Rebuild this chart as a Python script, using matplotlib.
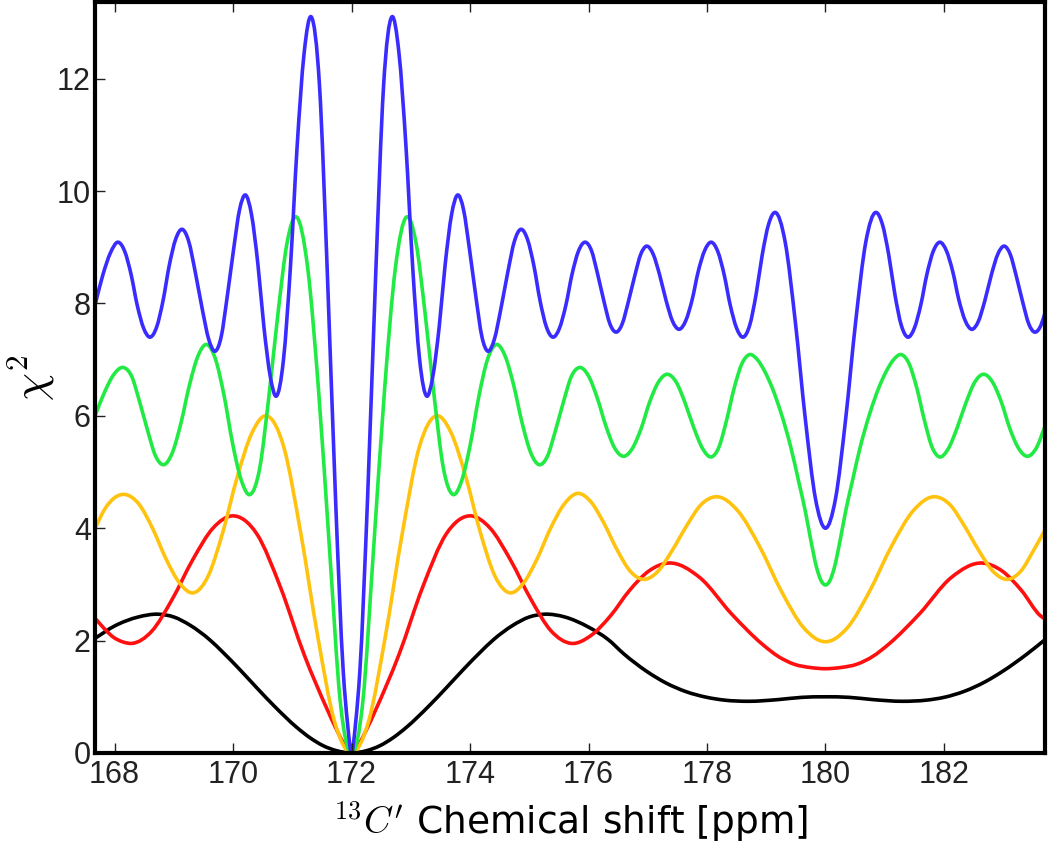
import matplotlib
matplotlib.use("Agg")
import matplotlib.pyplot as plt
import numpy as np
from matplotlib.path import Path
from matplotlib.patches import PathPatch

plt.rcParams['mathtext.fontset'] = 'cm'

# values
black_x = [167.67, 168.0, 168.4, 168.74, 169.0, 169.28, 169.6, 169.84, 170.1, 170.4,
           170.7, 171.07, 171.3, 171.52, 171.75, 172.0, 172.25, 172.48, 172.7, 172.93,
           173.3, 173.6, 173.9, 174.16, 174.4, 174.72, 175.0, 175.26, 175.6, 176.0,
           176.33, 176.6, 177.0, 177.3, 177.65, 178.0, 178.3, 178.7, 179.2, 179.6,
           180.0, 180.4, 180.8, 181.3, 181.7, 182.0, 182.35, 182.7, 183.0, 183.4, 183.71]
black_y = [2.04, 2.26, 2.42, 2.47, 2.42, 2.27, 2.02, 1.78, 1.50, 1.16,
           0.83, 0.46, 0.27, 0.13, 0.04, 0.0, 0.04, 0.13, 0.27, 0.46,
           0.83, 1.16, 1.50, 1.78, 2.02, 2.27, 2.42, 2.47, 2.42, 2.24,
           2.02, 1.76, 1.44, 1.25, 1.09, 0.99, 0.94, 0.92, 0.95, 0.99,
           1.00, 0.99, 0.95, 0.92, 0.94, 0.99, 1.10, 1.27, 1.46, 1.76, 2.02]

red_x = [167.67, 167.82, 167.98, 168.13, 168.29, 168.63, 168.97, 169.32, 169.66, 170.0,
         170.4, 170.8, 171.2, 171.6, 171.75, 172.0, 172.25, 172.4, 172.8, 173.2,
         173.6, 174.0, 174.34, 174.68, 175.03, 175.37, 175.71, 176.04, 176.37, 176.69,
         177.02, 177.35, 177.88, 178.41, 178.94, 179.2, 179.47, 179.75, 180.0, 180.25,
         180.53, 180.8, 181.06, 181.59, 182.12, 182.65, 182.98, 183.31, 183.63, 183.71]
red_y = [2.40, 2.22, 2.06, 1.98, 1.95, 2.17, 2.73, 3.44, 4.00, 4.22,
         3.90, 2.95, 1.75, 0.75, 0.41, 0.0, 0.41, 0.75, 1.75, 2.95,
         3.90, 4.22, 4.00, 3.44, 2.73, 2.17, 1.95, 2.09, 2.44, 2.89,
         3.24, 3.38, 3.12, 2.48, 1.93, 1.72, 1.58, 1.52, 1.50, 1.52,
         1.58, 1.72, 1.93, 2.48, 3.12, 3.38, 3.24, 2.89, 2.44, 2.38]

orange_x = [167.67, 167.84, 168.01, 168.18, 168.41, 168.64, 168.87, 169.10, 169.33, 169.58,
            169.83, 170.07, 170.32, 170.57, 170.86, 171.14, 171.43, 171.71, 172.0, 172.29,
            172.57, 172.86, 173.14, 173.43, 173.68, 173.93, 174.17, 174.42, 174.67, 174.90,
            175.13, 175.36, 175.59, 175.82, 176.04, 176.26, 176.48, 176.70, 176.92, 177.17,
            177.41, 177.66, 177.90, 178.15, 178.52, 178.89, 179.26, 179.63, 180.0, 180.37,
            180.74, 181.11, 181.48, 181.85, 182.10, 182.34, 182.59, 182.83, 183.08, 183.30,
            183.52, 183.71]
orange_y = [4.00, 4.35, 4.55, 4.60, 4.43, 4.00, 3.45, 3.02, 2.85, 3.15,
            3.94, 4.91, 5.70, 6.00, 5.43, 3.93, 2.07, 0.57, 0.0, 0.57,
            2.07, 3.93, 5.43, 6.00, 5.70, 4.91, 3.94, 3.15, 2.85, 3.02,
            3.45, 4.00, 4.43, 4.62, 4.47, 4.09, 3.62, 3.24, 3.09, 3.23,
            3.60, 4.05, 4.42, 4.56, 4.31, 3.67, 2.87, 2.23, 1.98, 2.23,
            2.87, 3.67, 4.31, 4.56, 4.42, 4.05, 3.60, 3.23, 3.09, 3.24,
            3.62, 3.98]

green_x = [167.67, 167.83, 167.99, 168.15, 168.29, 168.42, 168.56, 168.69, 168.83, 168.97,
           169.12, 169.26, 169.41, 169.55, 169.70, 169.85, 169.99, 170.14, 170.29, 170.45,
           170.60, 170.76, 170.91, 171.07, 171.26, 171.44, 171.63, 171.81, 172.0, 172.19,
           172.37, 172.56, 172.74, 172.93, 173.09, 173.24, 173.40, 173.55, 173.71, 173.86,
           174.01, 174.15, 174.30, 174.45, 174.59, 174.74, 174.88, 175.03, 175.17, 175.31,
           175.44, 175.58, 175.71, 175.85, 176.00, 176.15, 176.29, 176.44, 176.59, 176.74,
           176.89, 177.03, 177.18, 177.33, 177.48, 177.63, 177.78, 177.93, 178.08, 178.20,
           178.33, 178.46, 178.59, 178.72, 178.85, 178.98, 179.10, 179.25, 179.41, 179.55,
           179.66, 179.75, 179.85, 179.92, 180.0, 180.08, 180.15, 180.25, 180.34, 180.45,
           180.59, 180.75, 180.90, 181.02, 181.15, 181.28, 181.41, 181.54, 181.67, 181.80,
           181.92, 182.07, 182.22, 182.37, 182.52, 182.67, 182.82, 182.97, 183.11, 183.26,
           183.41, 183.56, 183.71]
green_y = [6.00, 6.42, 6.74, 6.86, 6.70, 6.26, 5.73, 5.29, 5.13, 5.33,
           5.87, 6.53, 7.07, 7.27, 7.02, 6.35, 5.52, 4.85, 4.60, 5.07,
           6.30, 7.84, 9.07, 9.54, 8.63, 6.50, 3.60, 0.91, 0.0, 0.91,
           3.60, 6.50, 8.63, 9.54, 9.07, 7.84, 6.30, 5.07, 4.60, 4.85,
           5.52, 6.35, 7.02, 7.27, 7.07, 6.53, 5.87, 5.33, 5.13, 5.29,
           5.73, 6.26, 6.70, 6.86, 6.71, 6.31, 5.83, 5.43, 5.28, 5.42,
           5.78, 6.24, 6.60, 6.74, 6.60, 6.23, 5.78, 5.41, 5.27, 5.44,
           5.92, 6.50, 6.93, 7.09, 7.00, 6.78, 6.50, 6.05, 5.46, 4.82,
           4.30, 3.80, 3.30, 3.08, 2.99, 3.08, 3.30, 3.80, 4.30, 4.82,
           5.46, 6.05, 6.50, 6.78, 7.00, 7.09, 6.93, 6.50, 5.92, 5.44,
           5.27, 5.41, 5.78, 6.23, 6.60, 6.74, 6.60, 6.24, 5.78, 5.42,
           5.28, 5.43, 5.83]

blue_x = [167.67, 167.80, 167.93, 168.06, 168.17, 168.28, 168.38, 168.49, 168.60, 168.71,
          168.82, 168.92, 169.03, 169.14, 169.25, 169.36, 169.48, 169.59, 169.70, 169.80,
          169.90, 170.01, 170.11, 170.21, 170.31, 170.42, 170.52, 170.63, 170.73, 170.85,
          170.97, 171.08, 171.20, 171.32, 171.46, 171.59, 171.73, 171.86, 171.93, 172.0,
          172.07, 172.14, 172.27, 172.41, 172.54, 172.68, 172.80, 172.92, 173.03, 173.15,
          173.27, 173.37, 173.48, 173.58, 173.69, 173.79, 173.89, 173.99, 174.10, 174.20,
          174.30, 174.41, 174.52, 174.64, 174.75, 174.86, 174.97, 175.08, 175.18, 175.29,
          175.40, 175.51, 175.62, 175.72, 175.83, 175.94, 176.05, 176.15, 176.26, 176.36,
          176.47, 176.57, 176.67, 176.78, 176.88, 176.98, 177.09, 177.20, 177.31, 177.42,
          177.53, 177.64, 177.75, 177.85, 177.96, 178.07, 178.18, 178.29, 178.39, 178.50,
          178.61, 178.72, 178.83, 178.93, 179.04, 179.15, 179.32, 179.49, 179.66, 179.83,
          180.0, 180.17, 180.34, 180.51, 180.68, 180.85, 180.96, 181.07, 181.17, 181.28,
          181.39, 181.50, 181.61, 181.71, 181.82, 181.93, 182.04, 182.15, 182.25, 182.36,
          182.47, 182.58, 182.69, 182.80, 182.91, 183.02, 183.12, 183.22, 183.33, 183.43,
          183.53, 183.64, 183.71]
blue_y = [7.97, 8.50, 8.90, 9.09, 8.93, 8.51, 7.98, 7.56, 7.40, 7.58,
          8.06, 8.66, 9.14, 9.32, 9.11, 8.57, 7.90, 7.36, 7.15, 7.41,
          8.11, 8.97, 9.67, 9.93, 9.59, 8.69, 7.59, 6.69, 6.35, 6.99,
          8.68, 10.77, 12.46, 13.10, 11.86, 8.58, 4.52, 1.45, 0.55, 0.0,
          0.55, 1.45, 4.52, 8.58, 11.86, 13.10, 12.46, 10.77, 8.68, 6.99,
          6.35, 6.69, 7.59, 8.69, 9.59, 9.93, 9.67, 8.97, 8.11, 7.41,
          7.15, 7.36, 7.90, 8.57, 9.11, 9.32, 9.14, 8.66, 8.06, 7.58,
          7.40, 7.56, 7.98, 8.51, 8.93, 9.09, 8.94, 8.54, 8.04, 7.64,
          7.49, 7.64, 8.02, 8.49, 8.87, 9.02, 8.88, 8.51, 8.05, 7.68,
          7.54, 7.69, 8.07, 8.56, 8.94, 9.09, 8.93, 8.51, 7.98, 7.56,
          7.40, 7.61, 8.17, 8.85, 9.41, 9.62, 9.09, 7.68, 5.94, 4.53,
          4.00, 4.53, 5.94, 7.68, 9.09, 9.62, 9.41, 8.85, 8.17, 7.61,
          7.40, 7.56, 7.98, 8.51, 8.93, 9.09, 8.94, 8.56, 8.07, 7.69,
          7.54, 7.68, 8.05, 8.51, 8.88, 9.02, 8.87, 8.49, 8.02, 7.64,
          7.49, 7.62, 7.85]

x_ticks = [168, 170, 172, 174, 176, 178, 180, 182]
y_ticks = [0, 2, 4, 6, 8, 10, 12]


def smooth_line(ax, xs, ys, color, lw):
    # draw a smooth cubic (Hermite -> Bezier) line through the read points
    x = np.asarray(xs, float)
    y = np.asarray(ys, float)
    m = np.gradient(y, x)
    verts = [(x[0], y[0])]
    codes = [Path.MOVETO]
    for i in range(len(x) - 1):
        h = x[i + 1] - x[i]
        verts += [(x[i] + h / 3, y[i] + m[i] * h / 3),
                  (x[i + 1] - h / 3, y[i + 1] - m[i + 1] * h / 3),
                  (x[i + 1], y[i + 1])]
        codes += [Path.CURVE4] * 3
    ax.add_patch(PathPatch(Path(verts, codes), fill=False, edgecolor=color,
                           lw=lw, joinstyle='round', capstyle='round'))


fig = plt.figure(figsize=(10.5, 8.47), dpi=100)
ax = fig.add_axes([0.0905, 0.111, 0.905, 0.887])

lw = 2.6
smooth_line(ax, black_x, black_y, 'black', lw)
smooth_line(ax, red_x, red_y, '#ff1010', lw)
smooth_line(ax, orange_x, orange_y, '#ffc30f', lw)
smooth_line(ax, green_x, green_y, '#22ea44', lw)
smooth_line(ax, blue_x, blue_y, '#3a2cff', lw)

ax.set_xlim(167.67, 183.71)
ax.set_ylim(0, 13.37)
ax.set_xticks(x_ticks)
ax.set_yticks(y_ticks)

for s in ax.spines.values():
    s.set_linewidth(3)
ax.tick_params(direction='in', length=7, width=1, top=True, right=False,
               labelsize=22, colors='#222222')
ax.tick_params(axis='x', pad=5)
ax.tick_params(axis='y', pad=3)
for lab in ax.get_xticklabels() + ax.get_yticklabels():
    lab.set_family('Liberation Sans')

ax.set_xlabel(r"$^{13}C'$ Chemical shift [ppm]", fontsize=27)
ax.xaxis.set_label_coords(0.5, -0.108)
ax.xaxis.label.set_va('baseline')
ax.set_ylabel(r"$\chi^2$", fontsize=32)
ax.yaxis.set_label_coords(-0.04, 0.5)

fig.savefig('out.png', dpi=100)
